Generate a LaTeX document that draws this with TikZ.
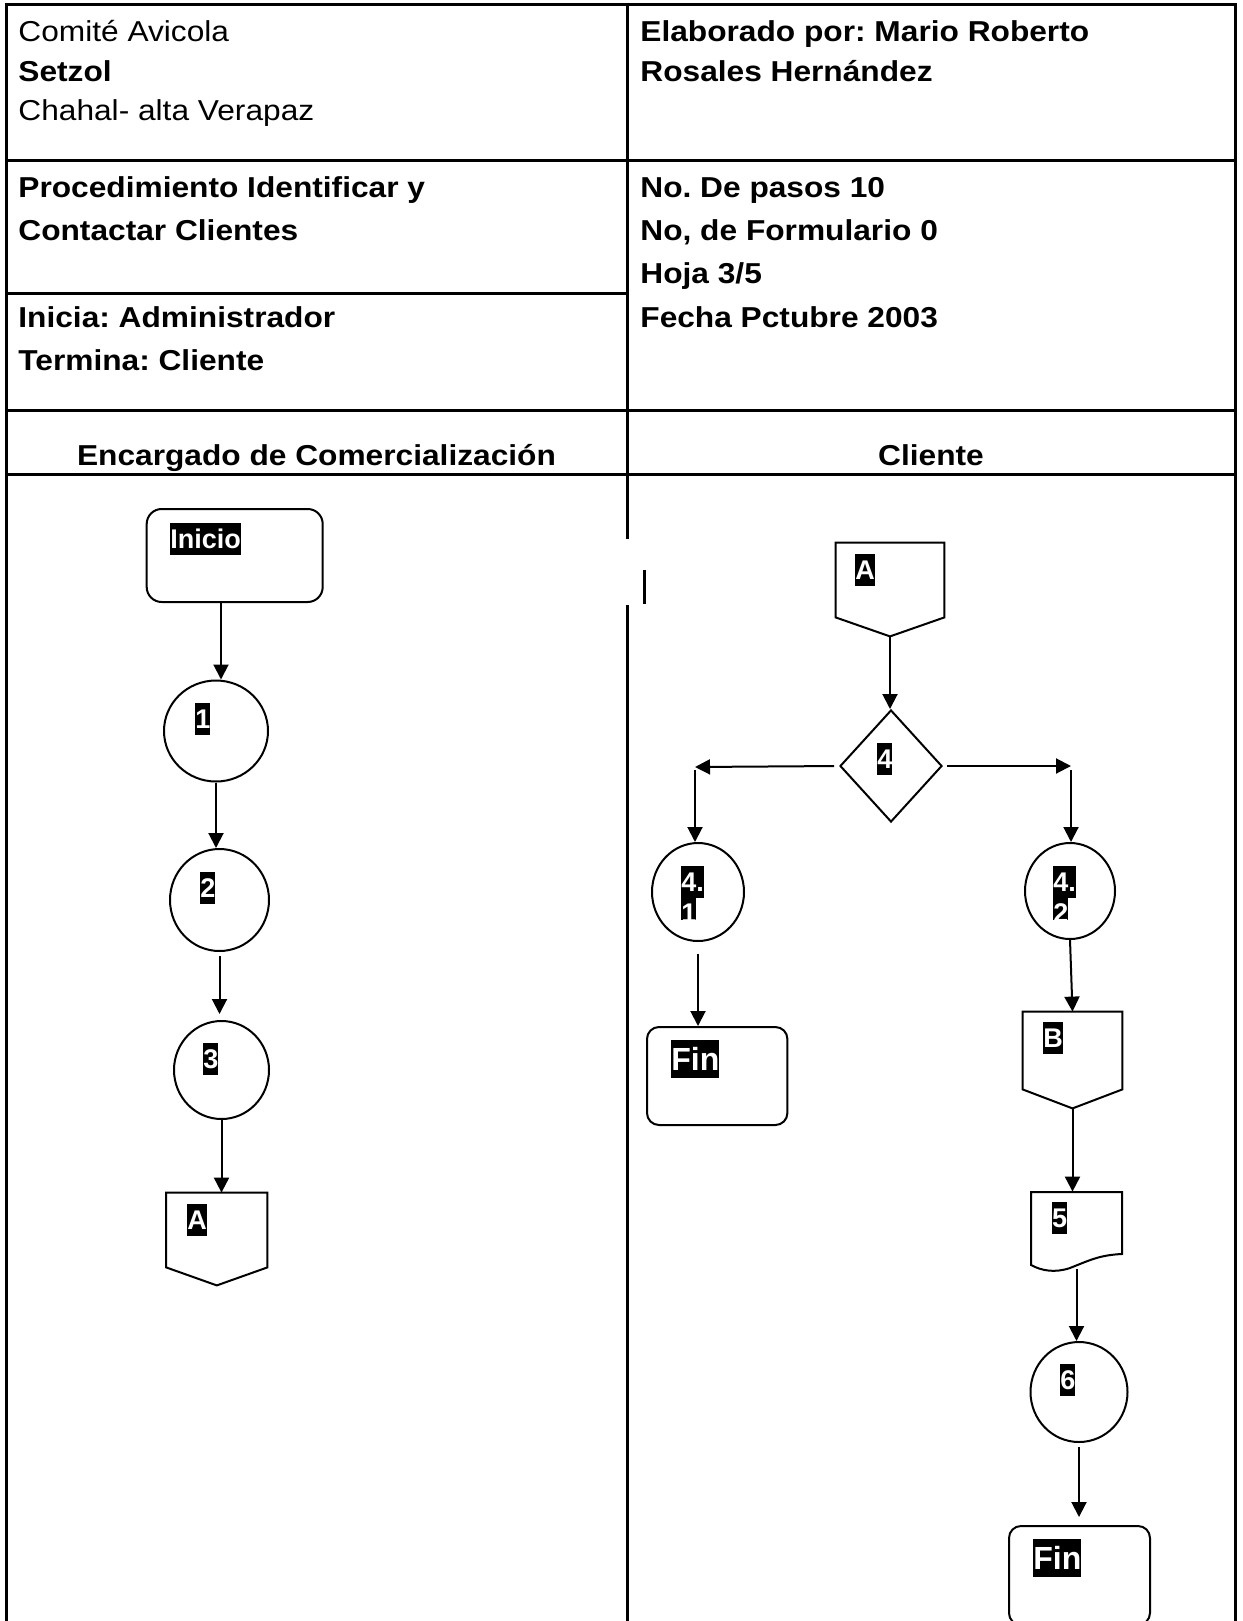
\documentclass[tikz,border=0pt]{standalone}
\usepackage{fontspec}
\setmainfont{Liberation Sans}
\newfontfamily\hdrfam[FakeStretch=1.1]{Liberation Sans}
\usetikzlibrary{arrows.meta,shapes.geometric,calc}
\newcommand\hdrfont{\hdrfam\fontsize{14.4pt}{17pt}\selectfont}
\newcommand\lblfont{\fontsize{13.5pt}{16pt}\selectfont\bfseries}
\newcommand\finfont{\fontsize{16pt}{19pt}\selectfont\bfseries}
\frenchspacing
\begin{document}
\begin{tikzpicture}[x=0.5pt,y=-0.5pt,
 tbl/.style={line width=1.5pt},
 shp/.style={draw,line width=1pt},
 arr/.style={line width=1pt,-{Triangle[length=7.5pt,width=7.5pt]}},
 hd/.style={anchor=base west,inner sep=0pt,font=\hdrfont},
 hdb/.style={hd,font=\hdrfont\bfseries},
 lbl/.style={fill=black,text=white,inner xsep=0pt,inner ysep=0.4pt,anchor=north west,font=\lblfont,text height=12.2pt,text depth=2.9pt},
 finlbl/.style={lbl,font=\finfont,text height=14.5pt,text depth=3.4pt},
 circ/.style={shp,ellipse,inner sep=0pt},
 term/.style={shp,rectangle,inner sep=0pt},
 hidbox/.style={rectangle,inner sep=0pt}]
\fill[white] (0,0) rectangle (1242,1621);
\useasboundingbox (0,0) rectangle (1242,1621);

% table
\draw[tbl] (6,1621) -- (6,5) -- (1235,5) -- (1235,1621);
\draw[tbl] (627,5) -- (627,539);
\draw[tbl] (627,605) -- (627,1621);
\draw[tbl] (644,570) -- (644,604);
\draw[tbl] (6,161) -- (1235,161);
\draw[tbl] (6,293) -- (627,293);
\draw[tbl] (6,410) -- (1235,410);
\draw[tbl] (6,474) -- (1235,474);

% header texts
\node[hd] (h1) at (18,42) {Comité Avicola};
\node[hdb] (h2) at (18,82) {Setzol};
\node[hd] (h3) at (18,121) {Chahal- alta Verapaz};
\node[hdb] (h4) at (640,42) {Elaborado por: Mario Roberto};
\node[hdb] (h5) at (640,82) {Rosales Hernández};
\node[hdb] (h6) at (18,198) {Procedimiento Identificar y};
\node[hdb] (h7) at (18,241) {Contactar Clientes};
\node[hdb] (h8) at (640,198) {No. De pasos 10};
\node[hdb] (h9) at (640,241) {No, de Formulario 0};
\node[hdb] (h10) at (640,284) {Hoja 3/5};
\node[hdb] (h11) at (640,327) {Fecha Pctubre 2003};
\node[hdb] (h12) at (18,327) {Inicia: Administrador};
\node[hdb] (h13) at (18,370) {Termina: Cliente};
\node[hdb,anchor=base] (h14) at (316.5,465) {Encargado de Comercialización};
\node[hdb,anchor=base] (h15) at (931,465) {Cliente};

% left column shapes
\node[term,rounded corners=7.5pt,minimum width=88pt,minimum height=46.5pt] (inicio) at (234.7,555.5) {};
\node[circ,minimum width=52pt,minimum height=50.5pt] (c1) at (216,731) {};
\node[circ,minimum width=49.5pt,minimum height=51pt] (c2) at (219.5,900) {};
\node[circ,minimum width=47.5pt,minimum height=49pt] (c3) at (221.5,1070) {};
\node[hidbox,minimum width=50.2pt,minimum height=46pt] (offA1) at (216.8,1239) {};
\draw[shp] (offA1.north west) -- (offA1.north east) -- ([yshift=9pt]offA1.south east) -- (offA1.south) -- ([yshift=9pt]offA1.south west) -- cycle;

% right column shapes
\node[hidbox,minimum width=54pt,minimum height=46.5pt] (offA2) at (890,589.5) {};
\draw[shp] (offA2.north west) -- (offA2.north east) -- ([yshift=9.5pt]offA2.south east) -- (offA2.south) -- ([yshift=9.5pt]offA2.south west) -- cycle;
\node[shp,diamond,inner sep=0pt,minimum width=51pt,minimum height=56pt] (d4) at (891,766) {};
\coordinate (jl) at (695,767);
\coordinate (jr) at (1071,766);
\node[circ,minimum width=46pt,minimum height=49pt] (c41) at (698,892) {};
\node[circ,minimum width=45pt,minimum height=48pt] (c42) at (1070,891) {};
\node[term,rounded corners=6pt,minimum width=70.2pt,minimum height=49pt] (fin1) at (717.2,1076) {};
\node[hidbox,minimum width=49.5pt,minimum height=48pt] (offB) at (1072.5,1060) {};
\draw[shp] (offB.north west) -- (offB.north east) -- ([yshift=9.5pt]offB.south east) -- (offB.south) -- ([yshift=9.5pt]offB.south west) -- cycle;
\node[hidbox,minimum width=45.5pt,minimum height=39.5pt] (doc5) at (1076.5,1231.5) {};
\draw[shp] (1031,1265) -- (1031,1192) -- (1122,1192) -- (1122,1254) .. controls (1100,1255) and (1090,1260) .. (1070,1268) .. controls (1055,1273) and (1042,1271) .. (1031,1265) -- cycle;
\node[circ,minimum width=48.5pt,minimum height=50pt] (c6) at (1079,1392) {};
\node[term,rounded corners=6pt,minimum width=70.5pt,minimum height=49.5pt] (fin2) at (1079.5,1575.5) {};

% connectors
\coordinate (s1) at ($(inicio.south)+(-13.7,0)$);
\draw[arr] (s1) -- (s1 |- c1.north);
\draw[arr] (c1.south) -- (c1.south |- c2.north);
\draw[arr,shorten <=2pt,shorten >=3pt] (c2.south) -- (c2.south |- c3.north);
\draw[arr] (c3.south) -- (c3.south |- offA1.north);
\draw[arr] (offA2.south) -- (offA2.south |- d4.north);
\draw[arr,shorten <=2.5pt] (d4.west) -- (jl);
\draw[arr,shorten <=2pt] (d4.east) -- (jr);
\draw[arr] ([yshift=-1.5pt]jl) -- (jl |- c41.north);
\draw[arr] ([yshift=-2pt]jr) -- (jr |- c42.north);
\draw[arr,shorten <=6pt] (c41.south) -- (c41.south |- fin1.north);
\draw[arr] (c42.south) -- (offB.north);
\draw[arr] (offB.south) -- (offB.south |- doc5.north);
\draw[arr] ([yshift=1pt]doc5.south) -- (doc5.south |- c6.north);
\draw[arr,shorten <=2pt,shorten >=4pt] (c6.south) -- (c6.south |- fin2.north);

% labels
\node[lbl] (tInicio) at (170,523) {Inicio};
\node[lbl] (t1) at (195,703) {1};
\node[lbl] (t2) at (200,872) {2};
\node[lbl] (t3) at (203,1043) {3};
\node[lbl] (tA1) at (187,1204) {A};
\node[lbl] (tA2) at (855,554) {A};
\node[lbl] (t4) at (877,743) {4};
\node[lbl] (t41a) at (681,866) {4.};
\begin{scope}
\clip (640,880) rectangle (760,919);
\node[lbl] (t41b) at (681,897) {1};
\end{scope}
\node[lbl] (t42a) at (1053,866) {4.};
\begin{scope}
\clip (1030,880) rectangle (1110,919);
\node[lbl] (t42b) at (1053,897) {2};
\end{scope}
\node[finlbl] (tFin1) at (671,1040) {Fin};
\node[lbl] (tB) at (1043,1022) {B};
\node[lbl] (t5) at (1051.6,1202) {5};
\node[lbl] (t6) at (1060,1364) {6};
\node[finlbl] (tFin2) at (1033,1539) {Fin};
\end{tikzpicture}
\end{document}
